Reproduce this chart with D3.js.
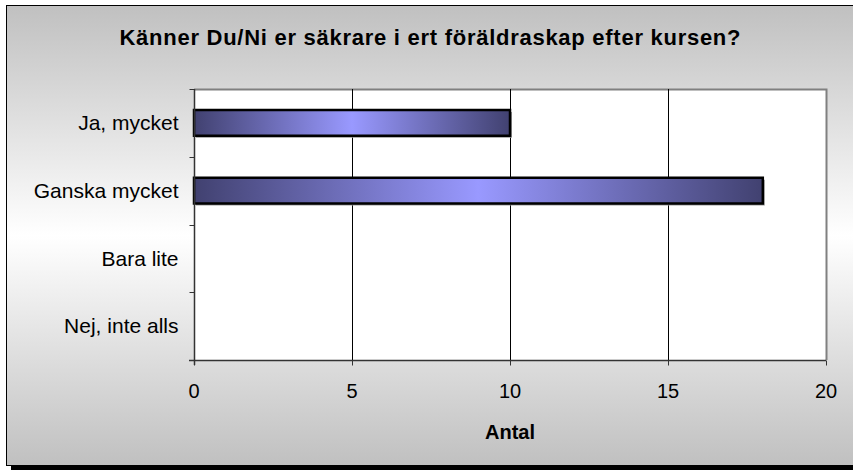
<!DOCTYPE html>
<html>
<head>
<meta charset="utf-8">
<script src="https://cdn.jsdelivr.net/npm/d3@7"></script>
<style>
  body { margin: 0; background: #fff; }
  svg { display: block; font-family: "Liberation Sans", Arial, sans-serif; }
</style>
</head>
<body>
<svg id="chart" width="853" height="472"></svg>
<script>
// data
var categories = ["Ja, mycket", "Ganska mycket", "Bara lite", "Nej, inte alls"];
var values = [10, 18, 0, 0];
var xTicks = [0, 5, 10, 15, 20];
var title = "Känner Du/Ni er säkrare i ert föräldraskap efter kursen?";
var xTitle = "Antal";

var svg = d3.select("#chart");
var defs = svg.append("defs");

// background gradient (grey - white - grey)
var bg = defs.append("linearGradient").attr("id", "bgGrad")
  .attr("x1", 0).attr("y1", 0).attr("x2", 0).attr("y2", 1);
bg.append("stop").attr("offset", "0%").attr("stop-color", "#c0c0c0");
bg.append("stop").attr("offset", "50%").attr("stop-color", "#ffffff");
bg.append("stop").attr("offset", "100%").attr("stop-color", "#c0c0c0");

// bar gradient (dark - light - dark), horizontal
var bar = defs.append("linearGradient").attr("id", "barGrad")
  .attr("x1", 0).attr("y1", 0).attr("x2", 1).attr("y2", 0);
bar.append("stop").attr("offset", "0%").attr("stop-color", "#414170");
bar.append("stop").attr("offset", "50%").attr("stop-color", "#9999ff");
bar.append("stop").attr("offset", "100%").attr("stop-color", "#414170");

// chart frame + shadow
svg.append("rect").attr("x", 11).attr("y", 11).attr("width", 860).attr("height", 459).attr("fill", "#000");
svg.append("rect").attr("x", 6.5).attr("y", 5.5).attr("width", 860).attr("height", 460)
  .attr("fill", "url(#bgGrad)").attr("stroke", "#000").attr("stroke-width", 1);

var margin = {left: 194, top: 89, right: 826, bottom: 360};

var x = d3.scaleLinear().domain([0, 20]).range([margin.left, margin.right]);
var y = d3.scaleBand().domain(categories).range([margin.top, margin.bottom]).paddingInner(0.62).paddingOuter(0.31);

// plot area
svg.append("rect").attr("x", margin.left).attr("y", margin.top)
  .attr("width", margin.right - margin.left).attr("height", margin.bottom - margin.top)
  .attr("fill", "#fff");
// plot area shadow border on top/right
svg.append("path")
  .attr("d", "M" + margin.left + "," + (margin.top + 0.5) + "H" + (margin.right + 0.5) + "V" + margin.bottom)
  .attr("fill", "none").attr("stroke", "#808080").attr("stroke-width", 2);

// gridlines
svg.append("g").selectAll("line").data(xTicks.slice(1, -1)).enter().append("line")
  .attr("x1", function(d){ return Math.round(x(d)) + 0.5; })
  .attr("x2", function(d){ return Math.round(x(d)) + 0.5; })
  .attr("y1", margin.top).attr("y2", margin.bottom)
  .attr("stroke", "#000").attr("stroke-width", 1);

// bars
var bars = svg.append("g").selectAll("g").data(values).enter().append("g");
bars.filter(function(d){ return d > 0; }).append("rect")
  .attr("x", x(0) + 2)
  .attr("y", function(d, i){ return y(categories[i]) + 2; })
  .attr("width", function(d){ return x(d) - x(0); })
  .attr("height", y.bandwidth())
  .attr("fill", "#999");
bars.filter(function(d){ return d > 0; }).append("rect")
  .attr("x", x(0))
  .attr("y", function(d, i){ return y(categories[i]); })
  .attr("width", function(d){ return x(d) - x(0); })
  .attr("height", y.bandwidth())
  .attr("fill", "url(#barGrad)")
  .attr("stroke", "#000").attr("stroke-width", 2.5);

// y axis
var yAxis = svg.append("g").attr("transform", "translate(" + (margin.left + 0.5) + ",0)");
yAxis.append("line").attr("y1", margin.top).attr("y2", margin.bottom + 5).attr("stroke", "#333").attr("stroke-width", 1.5);
var bounds = [0, 1, 2, 3, 4].map(function(i){ return margin.top + i * (margin.bottom - margin.top) / 4; });
yAxis.selectAll("line.t").data(bounds).enter().append("line").attr("class", "t")
  .attr("x1", -5).attr("x2", 0)
  .attr("y1", function(d){ return Math.round(d) + 0.5; })
  .attr("y2", function(d){ return Math.round(d) + 0.5; })
  .attr("stroke", "#333");
yAxis.selectAll("text").data(categories).enter().append("text")
  .attr("x", -16)
  .attr("y", function(d){ return y(d) + y.bandwidth() / 2; })
  .attr("dy", "0.35em")
  .attr("text-anchor", "end")
  .attr("font-size", 21)
  .attr("fill", "#000")
  .text(function(d){ return d; });

// x axis
var xAxis = svg.append("g").attr("transform", "translate(0," + (margin.bottom + 0.5) + ")");
xAxis.append("line").attr("x1", margin.left - 5).attr("x2", margin.right).attr("stroke", "#333").attr("stroke-width", 1.5);
xAxis.selectAll("line.t").data(xTicks).enter().append("line").attr("class", "t")
  .attr("x1", function(d){ return Math.round(x(d)) + 0.5; })
  .attr("x2", function(d){ return Math.round(x(d)) + 0.5; })
  .attr("y1", 0).attr("y2", 5).attr("stroke", "#333");
xAxis.selectAll("text").data(xTicks).enter().append("text")
  .attr("x", function(d){ return x(d); })
  .attr("y", 37)
  .attr("text-anchor", "middle")
  .attr("font-size", 20)
  .attr("fill", "#000")
  .text(function(d){ return d; });

// titles
svg.append("text").attr("x", 430).attr("y", 45)
  .attr("text-anchor", "middle").attr("font-size", 22).attr("font-weight", "bold")
  .attr("textLength", 621).attr("lengthAdjust", "spacing")
  .text(title);
svg.append("text").attr("x", (margin.left + margin.right) / 2).attr("y", 439)
  .attr("text-anchor", "middle").attr("font-size", 20).attr("font-weight", "bold")
  .text(xTitle);
</script>
</body>
</html>
